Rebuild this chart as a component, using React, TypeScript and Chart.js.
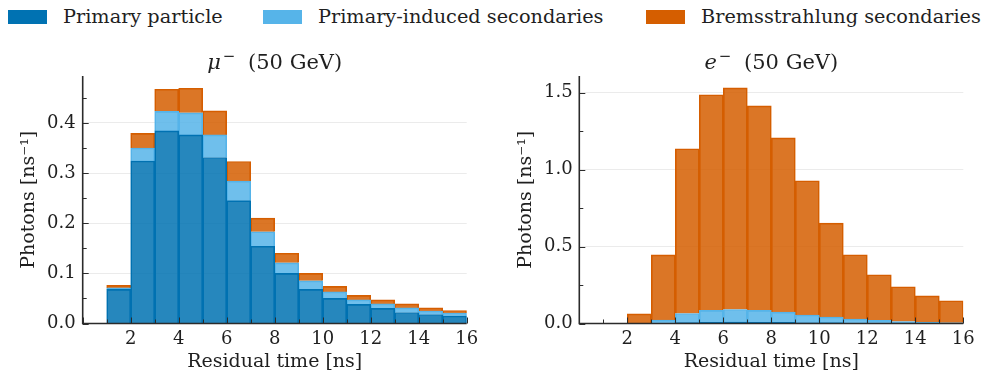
import React, { useEffect, useRef } from 'react';
import { Chart, registerables } from 'chart.js';

Chart.register(...registerables);

const FONT = "'DejaVu Serif', serif";
const TEXT = '#1f1f1f';

// ---- data ----
const MU_CENTERS = [1.5, 2.5, 3.5, 4.5, 5.5, 6.5, 7.5, 8.5, 9.5, 10.5, 11.5, 12.5, 13.5, 14.5, 15.5];
const MU_PRIMARY = [0.068, 0.324, 0.384, 0.376, 0.331, 0.245, 0.154, 0.100, 0.068, 0.050, 0.038, 0.030, 0.022, 0.018, 0.015];
const MU_INDUCED = [0.003, 0.026, 0.039, 0.044, 0.045, 0.039, 0.029, 0.021, 0.017, 0.013, 0.009, 0.009, 0.009, 0.007, 0.006];
const MU_BREMS = [0.005, 0.029, 0.044, 0.049, 0.048, 0.039, 0.027, 0.019, 0.015, 0.011, 0.009, 0.008, 0.008, 0.006, 0.005];

const E_CENTERS = [2.5, 3.5, 4.5, 5.5, 6.5, 7.5, 8.5, 9.5, 10.5, 11.5, 12.5, 13.5, 14.5, 15.5];
const E_PRIMARY = [0.000, 0.003, 0.006, 0.008, 0.009, 0.008, 0.007, 0.005, 0.004, 0.003, 0.002, 0.002, 0.001, 0.001];
const E_INDUCED = [0.003, 0.019, 0.059, 0.077, 0.082, 0.077, 0.067, 0.050, 0.038, 0.026, 0.018, 0.011, 0.007, 0.004];
const E_BREMS = [0.060, 0.424, 1.071, 1.402, 1.441, 1.330, 1.133, 0.873, 0.611, 0.418, 0.297, 0.226, 0.172, 0.143];

const SERIES_LABELS = ['Primary particle', 'Primary-induced secondaries', 'Bremsstrahlung secondaries'];
const SERIES_COLORS = ['#0072B2', '#56B4E9', '#D55E00'];
const SERIES_FILLS = ['rgba(0,114,178,0.85)', 'rgba(86,180,233,0.85)', 'rgba(213,94,0,0.85)'];

const X_LABEL = 'Residual time [ns]';
const Y_LABEL = 'Photons [ns\u207B\u00B9]';

const decoPlugin = {
  id: 'deco',
  afterDatasetsDraw(chart: any, _args: any, opts: any) {
    const { ctx, chartArea: ca, scales } = chart;
    const x = scales.x;
    const y = scales.y;
    ctx.save();
    ctx.strokeStyle = '#2b2b2b';
    ctx.lineWidth = 1.6;
    ctx.beginPath();
    ctx.moveTo(ca.left, ca.top);
    ctx.lineTo(ca.left, ca.bottom);
    ctx.lineTo(ca.right, ca.bottom);
    ctx.stroke();
    ctx.lineWidth = 1;
    ctx.beginPath();
    for (let v = 0; v <= 16 + 1e-9; v += 1) {
      const px = Math.round(x.getPixelForValue(v)) + 0.5;
      const len = v % 2 === 0 ? 6 : 4;
      ctx.moveTo(px, ca.bottom);
      ctx.lineTo(px, ca.bottom - len);
    }
    const step = opts.yStep / 2;
    for (let i = 0; i * step <= y.max + 1e-9; i++) {
      const v = i * step;
      const py = Math.round(y.getPixelForValue(v)) + 0.5;
      const len = i % 2 === 0 ? 6 : 4;
      ctx.moveTo(ca.left, py);
      ctx.lineTo(ca.left + len, py);
    }
    ctx.stroke();
    ctx.restore();
  },
  afterDraw(chart: any, _args: any, opts: any) {
    const { ctx, chartArea: ca } = chart;
    ctx.save();
    ctx.fillStyle = TEXT;
    ctx.textBaseline = 'alphabetic';
    ctx.textAlign = 'left';
    const mainFont = `21px ${FONT}`;
    const symFont = `italic 21px ${FONT}`;
    const supFont = `15px ${FONT}`;
    const rest = ' (50 GeV)';
    ctx.font = symFont;
    const w1 = ctx.measureText(opts.sym).width;
    ctx.font = supFont;
    const w2 = ctx.measureText('\u2212').width;
    ctx.font = mainFont;
    const w3 = ctx.measureText(rest).width;
    const gap1 = 2;
    const gap2 = 6;
    const total = w1 + gap1 + w2 + gap2 + w3;
    let xx = (ca.left + ca.right) / 2 - total / 2;
    const base = 69;
    ctx.font = symFont;
    ctx.fillText(opts.sym, xx, base);
    xx += w1 + gap1;
    ctx.font = supFont;
    ctx.fillText('\u2212', xx, base - 8);
    xx += w2 + gap2;
    ctx.font = mainFont;
    ctx.fillText(rest, xx, base);
    ctx.restore();
  },
};

type HistProps = {
  left: number;
  centers: number[];
  primary: number[];
  induced: number[];
  brems: number[];
  yMax: number;
  yStep: number;
  yWidth: number;
  yTitlePad: number;
  yTickPad: number;
  padRight: number;
  sym: string;
};

function Hist(props: HistProps) {
  const ref = useRef<HTMLCanvasElement | null>(null);
  useEffect(() => {
    if (!ref.current) return;
    const { centers, primary, induced, brems, yMax, yStep, yWidth, yTitlePad, yTickPad, padRight, sym } = props;
    const series = [primary, induced, brems];
    const chart = new Chart(ref.current, {
      type: 'bar',
      data: {
        datasets: series.map((vals, k) => ({
          label: SERIES_LABELS[k],
          data: centers.map((c, i) => ({ x: c, y: vals[i] })),
          backgroundColor: SERIES_FILLS[k],
          borderColor: SERIES_COLORS[k],
          borderWidth: 1,
          barPercentage: 1,
          categoryPercentage: 1,
        })),
      } as any,
      options: {
        animation: false,
        responsive: false,
        maintainAspectRatio: false,
        layout: { padding: { top: 76, right: padRight, bottom: 0, left: 0 } },
        plugins: {
          legend: { display: false },
          tooltip: { enabled: false },
          title: { display: false },
          deco: { yStep, sym },
        } as any,
        scales: {
          x: {
            type: 'linear',
            stacked: true,
            min: 0,
            max: 16,
            offset: false,
            grid: { display: false, drawTicks: false },
            border: { display: false },
            ticks: {
              stepSize: 2,
              autoSkip: false,
              maxRotation: 0,
              padding: 5,
              color: TEXT,
              font: { family: FONT, size: 18 },
              callback: (v: any) => (v === 0 ? '' : String(v)),
            },
            title: {
              display: true,
              text: X_LABEL,
              color: TEXT,
              font: { family: FONT, size: 19 },
              padding: { top: 0, bottom: 3 },
            },
            afterFit: (s: any) => {
              s.height = 52.5;
            },
          },
          y: {
            stacked: true,
            min: 0,
            max: yMax,
            grid: { color: '#ebebeb', lineWidth: 1, drawTicks: false },
            border: { display: false },
            ticks: {
              padding: yTickPad,
              color: TEXT,
              font: { family: FONT, size: 18 },
              callback: (v: any) => Number(v).toFixed(1),
            },
            afterBuildTicks: (s: any) => {
              const t: any[] = [];
              for (let i = 0; i * yStep <= yMax + 1e-9; i++) t.push({ value: +(i * yStep).toFixed(4) });
              s.ticks = t;
            },
            title: {
              display: true,
              text: Y_LABEL,
              color: TEXT,
              font: { family: FONT, size: 19 },
              padding: { top: yTitlePad, bottom: 0 },
            },
            afterFit: (s: any) => {
              s.width = yWidth;
            },
          },
        },
      } as any,
      plugins: [decoPlugin],
    });
    return () => chart.destroy();
  }, []);
  return (
    <canvas
      ref={ref}
      width={494}
      height={376}
      style={{ position: 'absolute', left: props.left, top: 0, width: 494, height: 376 }}
    />
  );
}

function Legend() {
  const xs = [8, 263, 646];
  return (
    <>
      {SERIES_LABELS.map((lab, k) => (
        <div key={lab} style={{ position: 'absolute', left: xs[k], top: 0, height: 34, display: 'flex', alignItems: 'center' }}>
          <div style={{ width: 39, height: 14, background: SERIES_COLORS[k], marginRight: 16 }} />
          <span style={{ fontFamily: FONT, fontSize: 19.3, color: TEXT, whiteSpace: 'nowrap', lineHeight: '34px' }}>{lab}</span>
        </div>
      ))}
    </>
  );
}

export default function App() {
  return (
    <div style={{ position: 'fixed', left: 0, top: 0, width: 988, height: 376, background: '#ffffff', overflow: 'hidden' }}>
      <Legend />
      <Hist
        left={0}
        centers={MU_CENTERS}
        primary={MU_PRIMARY}
        induced={MU_INDUCED}
        brems={MU_BREMS}
        yMax={0.4935}
        yStep={0.1}
        yWidth={82.7}
        yTitlePad={18}
        yTickPad={7}
        padRight={27.3}
        sym={'\u03BC'}
      />
      <Hist
        left={494}
        centers={E_CENTERS}
        primary={E_PRIMARY}
        induced={E_INDUCED}
        brems={E_BREMS}
        yMax={1.609}
        yStep={0.5}
        yWidth={85.3}
        yTitlePad={21}
        yTickPad={6.6}
        padRight={24.7}
        sym={'e'}
      />
    </div>
  );
}
